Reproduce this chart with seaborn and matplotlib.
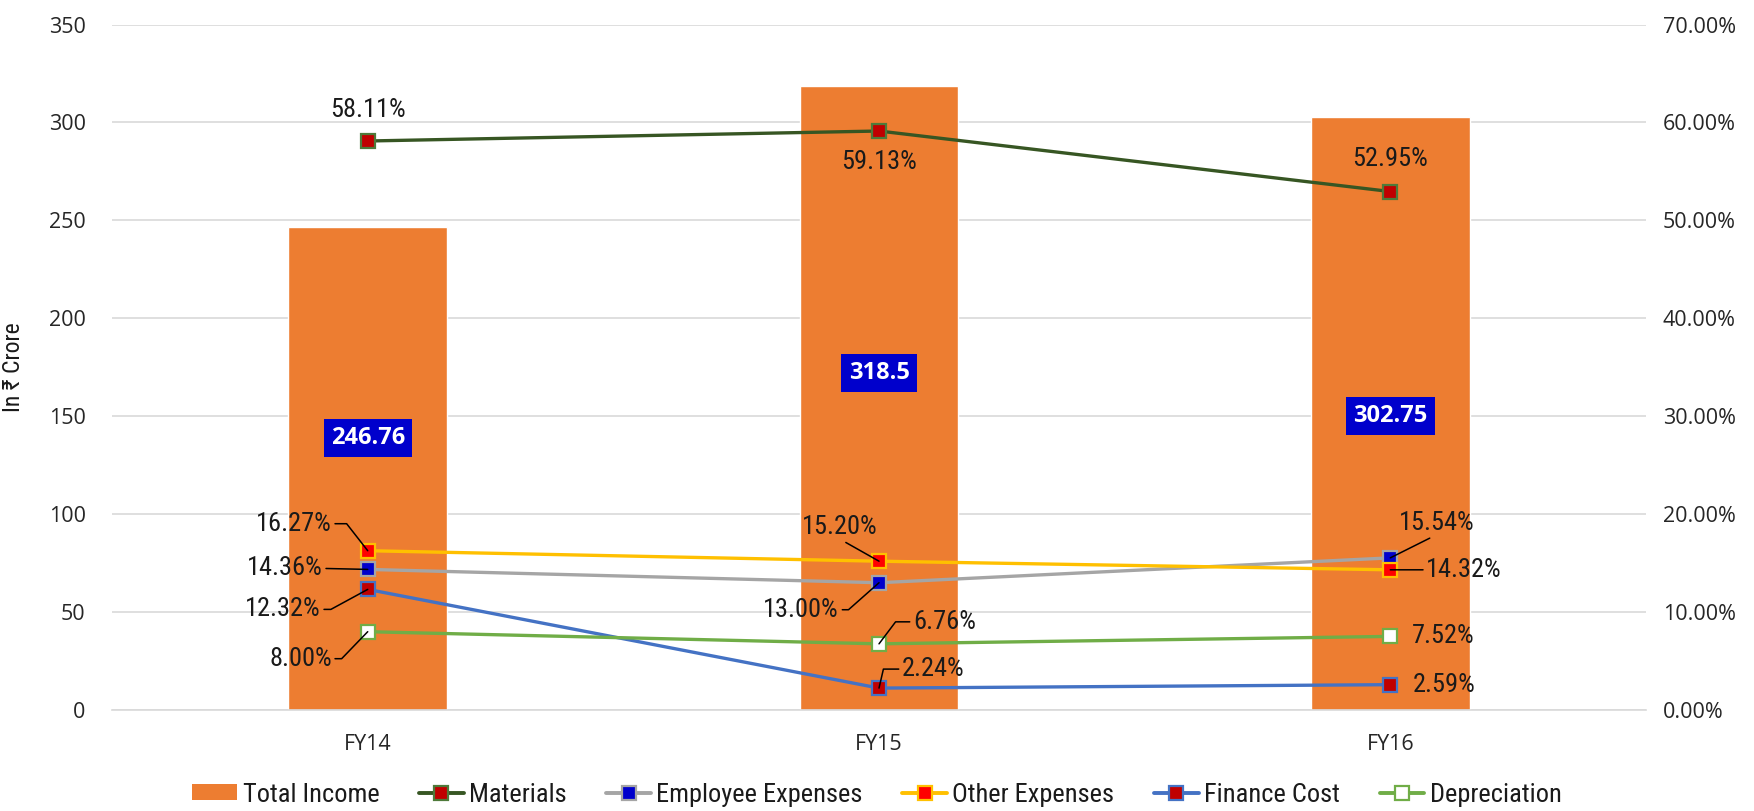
import matplotlib
matplotlib.use("Agg")
import matplotlib.pyplot as plt
import seaborn as sns
import pandas as pd
from matplotlib import font_manager as fm
from matplotlib.patches import Patch
from matplotlib.lines import Line2D

# ---------------- data ----------------
years = ["FY14", "FY15", "FY16"]
total_income = [246.76, 318.5, 302.75]
materials = [58.11, 59.13, 52.95]
employee_expenses = [14.36, 13.00, 15.54]
other_expenses = [16.27, 15.20, 14.32]
finance_cost = [12.32, 2.24, 2.59]
depreciation = [8.00, 6.76, 7.52]
left_ticks = [0, 50, 100, 150, 200, 250, 300, 350]
right_ticks = [0, 10, 20, 30, 40, 50, 60, 70]

# ---------------- fonts ----------------
sns.set_theme(style="white")
names = {f.name for f in fm.fontManager.ttflist}


def pick(cands, default="DejaVu Sans"):
    for c in cands:
        if c in names:
            return c
    return default


narrow = pick(["Roboto Condensed", "Archivo Narrow", "PT Sans Narrow",
               "Barlow Semi Condensed", "Liberation Sans Narrow"])
tickfont = pick(["Open Sans", "Noto Sans", "DejaVu Sans"])
plt.rcParams["font.family"] = [narrow, "DejaVu Sans"]
TICK_FAM = [tickfont, "DejaVu Sans"]
NARROW_FAM = [narrow, "DejaVu Sans"]

fig = plt.figure(figsize=(17.54, 8.11), dpi=100)
ax = fig.add_axes([0.0639, 0.1245, 0.8745, 0.8452])

df = pd.DataFrame({"Year": years, "Total Income": total_income})
sns.barplot(data=df, x="Year", y="Total Income", color="#ED7D31",
            saturation=1, width=0.31, ax=ax, zorder=2)
ax.set_xlim(-0.5, 2.5)
ax.set_ylim(0, 350)
ax.set_yticks(left_ticks)
ax.set_axisbelow(True)
ax.yaxis.grid(True, color="#D9D9D9", linewidth=1.2)
ax.xaxis.grid(False)
for s in ["left", "right", "top"]:
    ax.spines[s].set_visible(False)
ax.spines["bottom"].set_color("#D9D9D9")
ax.spines["bottom"].set_linewidth(1.2)
ax.set_xlabel("")
ax.set_ylabel("In ₹ Crore", fontsize=17, color="#1A1A1A", family=NARROW_FAM)
ax.yaxis.set_label_coords(-0.057, 0.5)
ax.tick_params(axis="y", length=0, pad=19, labelsize=15.5, labelcolor="#262626")
ax.tick_params(axis="x", length=0, pad=17, labelsize=15.5, labelcolor="#262626")
for lab in ax.get_yticklabels() + ax.get_xticklabels():
    lab.set_family(TICK_FAM)

# bar value labels
bar_label_y = [139, 172, 150]
for i, v in enumerate(total_income):
    ax.text(i, bar_label_y[i], f"{v:g}", ha="center", va="center",
            color="white", fontsize=17, fontweight="bold", family=TICK_FAM,
            bbox=dict(boxstyle="square,pad=0.3", fc="#0000CC", ec="none"), zorder=5)

# ---------------- secondary axis with lines ----------------
ax2 = ax.twinx()
ax2.set_ylim(0, 70)
ax2.set_yticks(right_ticks)
ax2.set_yticklabels([f"{t:.2f}%" for t in right_ticks])
ax2.tick_params(axis="y", length=0, pad=12, labelsize=15.5, labelcolor="#262626")
for lab in ax2.get_yticklabels():
    lab.set_family(TICK_FAM)
for s in ax2.spines.values():
    s.set_visible(False)
ax2.grid(False)

xpos = list(range(len(years)))
series = [
    ("Materials", materials, "#375623", "#C00000", "#4E7A3A"),
    ("Employee Expenses", employee_expenses, "#A5A5A5", "#0000CC", "#A5A5A5"),
    ("Other Expenses", other_expenses, "#FFC000", "#FF0000", "#FFC000"),
    ("Finance Cost", finance_cost, "#4472C4", "#C00000", "#4472C4"),
    ("Depreciation", depreciation, "#70AD47", "#FFFFFF", "#70AD47"),
]

handles = [Patch(facecolor="#ED7D31", edgecolor="none", label="Total Income")]
for name, vals, lc, mfc, mec in series:
    sdf = pd.DataFrame({"x": xpos, "y": vals})
    sns.lineplot(data=sdf, x="x", y="y", ax=ax2, color=lc, linewidth=2.4,
                 marker="s", markersize=10, markerfacecolor=mfc,
                 markeredgecolor=mec, markeredgewidth=1.6, legend=False, zorder=3)
    handles.append(Line2D([0], [0], color=lc, linewidth=2.8, marker="s",
                          markersize=10, markerfacecolor=mfc, markeredgecolor=mec,
                          markeredgewidth=1.6, label=name))
ax2.set_xlabel("")
ax2.set_ylabel("")

# label specs: (dx, dy, ha, relpos, leader) ; leader None/'line'/angle
label_specs = {
    "Materials": [(0, 31, "center", None, None), (0, -31, "center", None, None),
                  (0, 33, "center", None, None)],
    "Employee Expenses": [(-45, 1, "right", (1, 0.5), "line"),
                          (-40, -27, "right", (1, 0.5), 41.5),
                          (46, 35, "center", (0.5, 0), "line")],
    "Other Expenses": [(-36, 27, "right", (1, 0.5), -52),
                       (-39, 34, "center", (0.5, 0), "line"),
                       (36, 0, "left", (0, 0.5), "line")],
    "Finance Cost": [(-47, -20, "right", (1, 0.5), 28.5),
                     (23, 19, "left", (0, 0.5), 77),
                     (22, 0, "left", None, None)],
    "Depreciation": [(-36, -27, "right", (1, 0.5), 46),
                     (34, 22, "left", (0, 0.5), 53),
                     (22, 0, "left", None, None)],
}
for name, vals, lc, mfc, mec in series:
    for i, v in enumerate(vals):
        dx, dy, ha, relpos, leader = label_specs[name][i]
        kw = {}
        if leader is not None:
            cs = "arc3" if leader == "line" else f"angle,angleA=0,angleB={leader},rad=0"
            kw["arrowprops"] = dict(arrowstyle="-", color="black", lw=1.1,
                                    shrinkA=0, shrinkB=0, relpos=relpos,
                                    connectionstyle=cs)
        ax2.annotate(f"{v:.2f}%", xy=(i, v), xytext=(dx, dy),
                     textcoords="offset pixels", ha=ha, va="center",
                     fontsize=19, color="#1A1A1A", family=NARROW_FAM, zorder=6, **kw)

fig.legend(handles=handles, loc="center", bbox_to_anchor=(0.5, 0.02), ncol=6,
           frameon=False, prop={"family": NARROW_FAM, "size": 19},
           handlelength=1.7, handleheight=0.55, handletextpad=0.2,
           columnspacing=1.5, labelcolor="#1A1A1A")

fig.savefig("out.png", dpi=100)
